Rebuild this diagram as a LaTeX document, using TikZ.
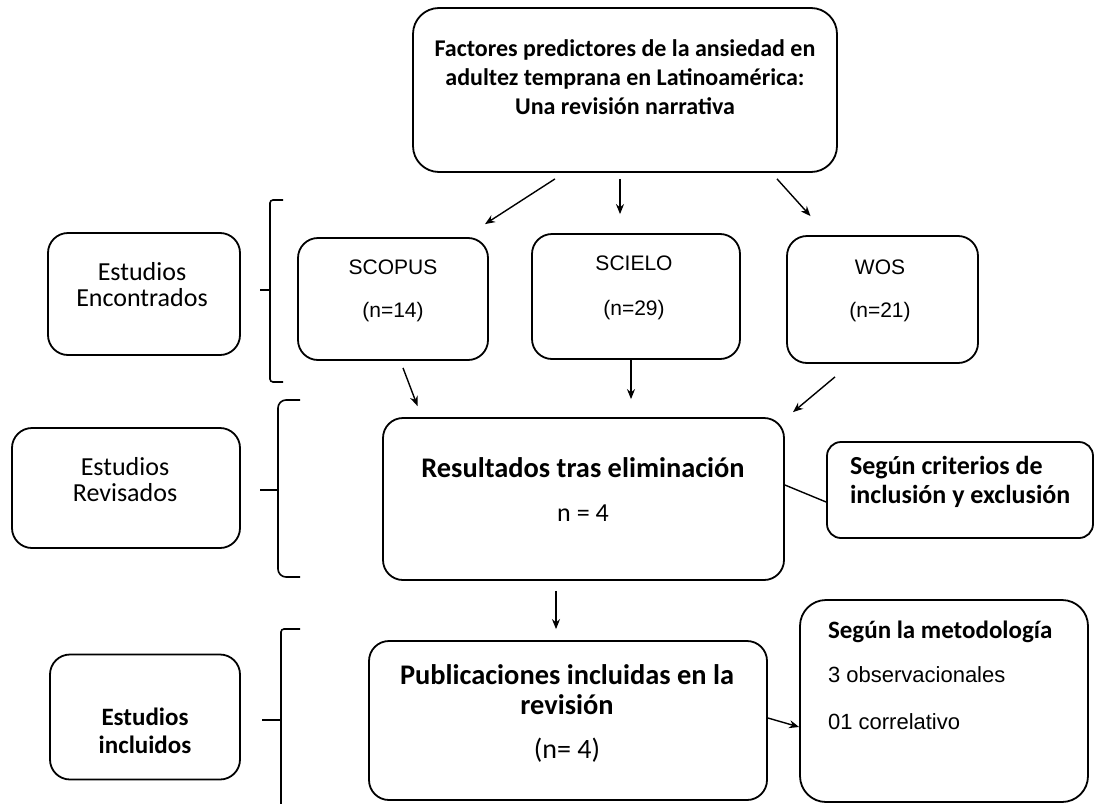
\documentclass[tikz,border=0pt]{standalone}
\usepackage{fontspec}
\setmainfont{Carlito}
\newfontfamily\arialfont{Liberation Sans}
\usetikzlibrary{arrows.meta, positioning}

\begin{document}
\begin{tikzpicture}[x=0.5pt, y=-0.5pt,
    caja/.style={draw, line width=0.9pt, rounded corners=10pt, inner sep=0pt},
    flecha/.style={-{Stealth[length=5pt, width=4pt]}, line width=0.7pt},
    llave/.style={line width=0.8pt, rounded corners=1.5pt},
    negrita/.style={font=\bfseries\fontsize{12}{14.5}\selectfont, align=center},
    normal/.style={font=\fontsize{13}{13}\selectfont, align=center},
    arial/.style={font=\arialfont\fontsize{10.5}{12}\selectfont}]
    \useasboundingbox (0,0) rectangle (1097,803);

    % cajas
    \node[caja, rounded corners=13pt, minimum width=212pt, minimum height=82pt] (titulo) at (625,90) {};
    \node[caja, minimum width=96pt, minimum height=61pt] (encontrados) at (144,294) {};
    \node[caja, minimum width=114pt, minimum height=60pt] (revisados) at (126,488) {};
    \node[caja, minimum width=95pt, minimum height=62.5pt] (incluidos) at (145,717) {};
    \node[caja, minimum width=95pt, minimum height=61pt] (scopus) at (393,299) {};
    \node[caja, minimum width=104pt, minimum height=62.5pt] (scielo) at (636,296.5) {};
    \node[caja, minimum width=95.5pt, minimum height=63.5pt] (wos) at (882.5,299.5) {};
    \node[caja, minimum width=200.5pt, minimum height=81pt] (resultados) at (583.5,499) {};
    \node[caja, rounded corners=7pt, minimum width=133pt, minimum height=48pt] (criterios) at (960,490) {};
    \node[caja, minimum width=199pt, minimum height=79.5pt] (publicaciones) at (568,720.5) {};
    \node[caja, rounded corners=13pt, minimum width=144pt, minimum height=101pt] (metodologia) at (944,701) {};

    % textos
    \node[negrita] (tTitulo) at (625,77) {Factores predictores de la ansiedad en\\adultez temprana en Latinoamérica:\\Una revisión narrativa};
    \node[normal] (tEncontrados) at (142,285) {Estudios\\Encontrados};
    \node[normal] (tRevisados) at (125,480) {Estudios\\Revisados};
    \node[negrita, font=\bfseries\fontsize{12.5}{14}\selectfont] (tIncluidos) at (145,731) {Estudios\\incluidos};
    \node[arial] (tScopus) at (393,267) {SCOPUS};
    \node[arial] (nScopus) at (393,312) {(n=14)};
    \node[arial] (tScielo) at (634,263) {SCIELO};
    \node[arial] (nScielo) at (634,310) {(n=29)};
    \node[arial] (tWos) at (880,267) {WOS};
    \node[arial] (nWos) at (880,312) {(n=21)};
    \node[negrita, font=\bfseries\fontsize{14.2}{16}\selectfont] (tResultados) at (583,468) {Resultados tras eliminación};
    \node[normal] (nResultados) at (583,513) {n = 4};
    \node[negrita, font=\bfseries\fontsize{13}{14.5}\selectfont, align=left, anchor=west] (tCriterios) at (843,482) {Según criterios de\\inclusión y exclusión};
    \node[negrita, font=\bfseries\fontsize{14.2}{15}\selectfont] (tPublicaciones) at (567,690) {Publicaciones incluidas en la\\revisión};
    \node[normal, font=\fontsize{14}{14}\selectfont] (nPublicaciones) at (567,750) {(n= 4)};
    \node[negrita, font=\bfseries\fontsize{12.5}{14}\selectfont, anchor=west] (tMetodologia) at (821,632) {Según la metodología};
    \node[arial, font=\arialfont\fontsize{11}{12}\selectfont, anchor=west] (tObs) at (821,675) {3 observacionales};
    \node[arial, font=\arialfont\fontsize{11}{12}\selectfont, anchor=west] (tCorr) at (821,722) {01 correlativo};

    % flechas
    \draw[flecha] ([xshift=-35pt, yshift=-3pt]titulo.south) -- ([xshift=46pt, yshift=6.5pt]scopus.north);
    \draw[flecha] ([xshift=-2.5pt, yshift=-3pt]titulo.south) -- ([xshift=-8pt, yshift=9.5pt]scielo.north);
    \draw[flecha] ([xshift=76pt, yshift=-3pt]titulo.south) -- ([xshift=-36pt, yshift=9.5pt]wos.north);
    \draw[flecha] ([xshift=5pt, yshift=-3.5pt]scopus.south) -- ([xshift=-83pt, yshift=5.5pt]resultados.north);
    \draw[flecha] ([xshift=-2.5pt]scielo.south) -- ([xshift=23.75pt, yshift=9pt]resultados.north);
    \draw[flecha] ([xshift=-23.75pt, yshift=-6.5pt]wos.south) -- ([xshift=104.75pt, yshift=2.5pt]resultados.north);
    \draw[line width=0.7pt] ([yshift=7pt]resultados.east) -- ([yshift=-6pt]criterios.west);
    \draw[flecha] ([xshift=-13.75pt, yshift=-5pt]resultados.south) -- ([xshift=-6pt, yshift=5.5pt]publicaciones.north);
    \draw[flecha] ([yshift=1.25pt]publicaciones.east) -- ([yshift=-13pt]metodologia.west);

    % llaves
    \draw[llave] (283,200) -- (270,200) -- (270,382) -- (283,382);
    \draw[line width=1.4pt] (260,290) -- (270,290);
    \draw[llave, rounded corners=4pt] (300,400) -- (278,400) -- (278,577) -- (300,577);
    \draw[line width=1.4pt] (260,490) -- (278,490);
    \draw[llave] (300,629) -- (281,629) -- (281,815);
    \draw[line width=1.4pt] (262,720) -- (281,720);
\end{tikzpicture}
\end{document}
